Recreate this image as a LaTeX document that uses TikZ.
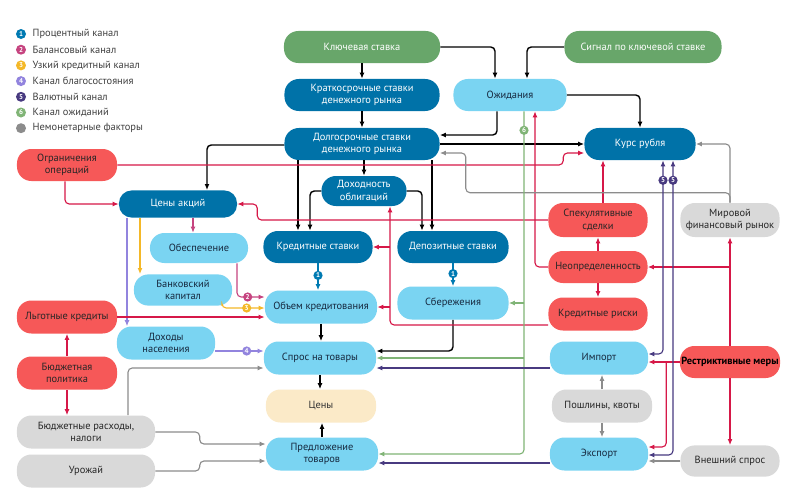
\documentclass[tikz,border=0pt]{standalone}
\usepackage{fontspec}
\setmainfont{PT Sans}
\usetikzlibrary{arrows.meta,calc}
\definecolor{keygreen}{RGB}{104,166,106}
\definecolor{rateblue}{RGB}{0,114,168}
\definecolor{softblue}{RGB}{122,212,242}
\definecolor{alertred}{RGB}{246,88,88}
\definecolor{factorgray}{RGB}{217,217,217}
\definecolor{pricecream}{RGB}{251,234,200}
\definecolor{linered}{RGB}{214,24,72}
\definecolor{linegray}{RGB}{140,140,140}
\definecolor{chblue}{RGB}{0,122,178}
\definecolor{chpink}{RGB}{198,68,128}
\definecolor{chorange}{RGB}{244,184,40}
\definecolor{chlav}{RGB}{146,132,222}
\definecolor{chpurple}{RGB}{72,58,128}
\definecolor{chgreen}{RGB}{128,180,118}
\definecolor{navytext}{RGB}{22,40,62}

\begin{document}
\begin{tikzpicture}[x=0.025cm,y=-0.025cm,>={Latex[length=1.5mm,width=1.2mm]}]
  \tikzstyle{basebox}=[rounded corners=0.36cm,minimum height=0.8cm,align=center,
    inner sep=1pt,font=\fontsize{7.4}{8.8}\selectfont]
  \tikzstyle{keybox}=[basebox,fill=keygreen,text=white]
  \tikzstyle{ratebox}=[basebox,fill=rateblue,text=white]
  \tikzstyle{softbox}=[basebox,fill=softblue,text=navytext]
  \tikzstyle{alertbox}=[basebox,fill=alertred,text=black!85]
  \tikzstyle{factbox}=[basebox,fill=factorgray,text=black!85]
  \tikzstyle{pricebox}=[basebox,fill=pricecream,text=black!80]
  \tikzstyle{arrblack}=[->,black,line width=1pt,rounded corners=3pt]
  \tikzstyle{arrred}=[arrblack,linered,line width=0.8pt]
  \tikzstyle{arrgray}=[arrblack,linegray,line width=0.8pt]
  \tikzstyle{arrgreen}=[arrblack,chgreen,line width=0.8pt]
  \tikzstyle{arrpurple}=[arrblack,chpurple,line width=0.8pt]
  \tikzstyle{arrblue}=[arrblack,chblue,line width=0.8pt]
  \tikzstyle{arrpink}=[arrblack,chpink,line width=0.8pt]
  \tikzstyle{arrorange}=[arrblack,chorange,line width=0.8pt]
  \tikzstyle{arrlav}=[arrblack,chlav,line width=0.8pt]
  \tikzstyle{chmark}=[circle,inner sep=0pt,minimum size=0.23cm,text=white,
    font=\fontsize{5}{5}\selectfont\bfseries]

  \fill[white] (0,0) rectangle (800,494);
  \useasboundingbox (0,0) rectangle (800,494);

  % legend
  \foreach \i/\c/\n/\t in {1/chblue/1/Процентный канал,2/chpink/2/Балансовый канал,
      3/chorange/3/Узкий кредитный канал,4/chlav/4/Канал благосостояния,
      5/chpurple/5/Валютный канал,6/chgreen/6/Канал ожиданий,7/linegray/{}/Немонетарные факторы}{
    \node[chmark,fill=\c,minimum size=0.25cm] (lgdot\i) at (21,{34+(\i-1)*15.7}) {\n};
    \node[anchor=west,inner sep=1pt,text=black!75,font=\fontsize{7.4}{8}\selectfont]
      (lgtext\i) at (31,{34+(\i-1)*15.7}) {\t};
  }

  % nodes
  \node[keybox,minimum width=3.9cm] (keyrate) at (362,47) {Ключевая ставка};
  \node[keybox,minimum width=3.925cm] (signal) at (643,47) {Сигнал по ключевой ставке};
  \node[ratebox,minimum width=3.875cm] (shortrate) at (362,95) {Краткосрочные ставки\\денежного рынка};
  \node[softbox,minimum width=2.825cm] (expect) at (510,95) {Ожидания};
  \node[ratebox,minimum width=3.875cm] (longrate) at (362,144) {Долгосрочные ставки\\денежного рынка};
  \node[ratebox,minimum width=2.775cm] (rouble) at (640,144) {Курс рубля};
  \node[alertbox,minimum width=2.5cm] (limits) at (67,165) {Ограничения\\операций};
  \node[ratebox,minimum width=2.125cm,minimum height=0.75cm] (bondyield) at (364,191) {Доходность\\облигаций};
  \node[ratebox,minimum width=2.95cm,minimum height=0.68cm,rounded corners=0.32cm] (stocks) at (178,204) {Цены акций};
  \node[softbox,minimum width=2.45cm,minimum height=0.75cm] (collateral) at (199,248) {Обеспечение};
  \node[ratebox,minimum width=2.725cm] (loanrate) at (318,247) {Кредитные ставки};
  \node[ratebox,minimum width=2.775cm] (deprate) at (453,247) {Депозитные ставки};
  \node[alertbox,minimum width=2.475cm,minimum height=0.85cm] (specul) at (598,220) {Спекулятивные\\сделки};
  \node[factbox,minimum width=2.475cm,minimum height=0.85cm] (worldmkt) at (730,220) {Мировой\\финансовый рынок};
  \node[alertbox,minimum width=2.475cm] (uncert) at (598,267) {Неопределенность};
  \node[softbox,minimum width=2.45cm,minimum height=0.78cm] (bankcap) at (183,290) {Банковский\\капитал};
  \node[softbox,minimum width=2.8cm,minimum height=0.825cm] (lending) at (321,307) {Объем кредитования};
  \node[softbox,minimum width=2.775cm,minimum height=0.825cm] (savings) at (453,303) {Сбережения};
  \node[alertbox,minimum width=2.475cm,minimum height=0.825cm] (creditrisk) at (598,314) {Кредитные риски};
  \node[alertbox,minimum width=2.5cm,minimum height=0.825cm] (softloans) at (67,317) {Льготные кредиты};
  \node[softbox,minimum width=2.45cm,minimum height=0.825cm] (income) at (166,343) {Доходы\\населения};
  \node[softbox,minimum width=2.8cm,minimum height=0.825cm] (demand) at (320,358) {Спрос на товары};
  \node[softbox,minimum width=2.45cm,minimum height=0.825cm] (imports) at (599,358) {Импорт};
  \node[alertbox,minimum width=2.5cm,font=\fontsize{7.4}{8.8}\selectfont\bfseries,text=black] (restrict) at (730,362) {Рестриктивные меры};
  \node[alertbox,minimum width=2.5cm,minimum height=0.825cm] (budgetpol) at (67,373) {Бюджетная\\политика};
  \node[pricebox,minimum width=2.75cm,minimum height=0.825cm] (prices) at (321,406) {Цены};
  \node[factbox,minimum width=2.5cm,minimum height=0.825cm] (tariffs) at (602,406) {Пошлины, квоты};
  \node[factbox,minimum width=3.45cm,minimum height=0.825cm] (budgetexp) at (86,432) {Бюджетные расходы,\\налоги};
  \node[softbox,minimum width=2.8cm,minimum height=0.825cm] (supply) at (322,454) {Предложение\\товаров};
  \node[softbox,minimum width=2.45cm,minimum height=0.825cm] (exports) at (599,454) {Экспорт};
  \node[factbox,minimum width=3.45cm,minimum height=0.825cm] (harvest) at (86,471) {Урожай};
  \node[factbox,minimum width=2.475cm,minimum height=0.78cm] (extdemand) at (730,461) {Внешний спрос};

  % helper points
  \coordinate (lrin) at ($(loanrate.north)+(-20,0)$);
  \coordinate (dpin) at ($(deprate.north)+(-21,0)$);
  \coordinate (rb) at ($(rouble.west)+(-21,9)$);
  \coordinate (rk) at ($(bondyield.south)+(26,0)$);
  \coordinate (rx) at ($(imports.east)+(18,0)$);
  \coordinate (gb) at ($(worldmkt.north)+(0,-10)$);
  \coordinate (gk) at ($(longrate.east)+(26,9)$);
  \coordinate (gx) at ($(supply.west)+(-66,0)$);
  \coordinate (gn) at ($(expect.south)+(14,0)$);
  \coordinate (pa) at ($(rouble.south)+(23,0)$);
  \coordinate (pb) at ($(rouble.south)+(33,0)$);
  \coordinate (pi) at ($(imports.west)+(0,10)$);
  \coordinate (pe) at ($(exports.west)+(0,9)$);
  \coordinate (lv) at ($(demand.west)+(0,-7)$);

  % black links
  \draw[arrblack] (keyrate.south) -- (shortrate.north);
  \draw[arrblack] (keyrate.east) -| ($(expect.north)+(-15,0)$);
  \draw[arrblack] (signal.west) -| ($(expect.north)+(17,0)$);
  \draw[arrblack] (shortrate.south) -- (longrate.north);
  \draw[arrblack] ($(expect.south)+(-13,0)$) |- ($(longrate.east)+(0,-9)$);
  \draw[arrblack] (expect.east) -| (rouble.north);
  \draw[arrblack] (longrate.east) -- (rouble.west);
  \draw[arrblack] ($(longrate.west)+(0,1)$) -| ($(stocks.north)+(29,0)$);
  \draw[arrblack] (bondyield.north |- longrate.south) -- (bondyield.north);
  \draw[arrblack] (lrin |- longrate.south) -- (lrin);
  \draw[arrblack] (bondyield.west) -| ($(loanrate.north)+(-8,0)$);
  \draw[arrblack] (bondyield.east) -| ($(deprate.north)+(-31,0)$);
  \draw[arrblack] (dpin |- longrate.south) -- (dpin);
  \draw[arrblack] (lending.south) -- (lending.south |- demand.north);
  \draw[arrblack] (savings.south) |- ($(demand.east)+(0,-7)$);
  \draw[arrblack] (demand.south) -- (demand.south |- prices.north);
  \draw[arrblack] (supply.north) -- (supply.north |- prices.south);

  % channels 1-4
  \draw[arrblue] (loanrate.south) -- (loanrate.south |- lending.north);
  \draw[arrblue] (deprate.south) -- (deprate.south |- savings.north);
  \draw[arrpink] ($(stocks.south)+(15,0)$) -- ($(stocks.south |- collateral.north)+(15,0)$);
  \draw[arrpink] ($(collateral.south)+(38,0)$) |- ($(lending.west)+(0,-10)$);
  \draw[arrorange] ($(stocks.south)+(-38,0)$) -- ($(stocks.south |- bankcap.north)+(-38,0)$);
  \draw[arrorange] ($(bankcap.south)+(39,0)$) |- ($(lending.west)+(0,1)$);
  \draw[arrlav] ($(stocks.south)+(-51,0)$) -- ($(stocks.south |- income.north)+(-51,0)$);
  \draw[arrlav] (income.east |- lv) -- (lv);

  % red links
  \draw[arrred] (limits.east) -- (limits.east -| rb) -- (rb) -- ($(rouble.west)+(0,9)$);
  \draw[arrred] ($(limits.south)+(-2,0)$) |- (stocks.west);
  \draw[arrred] (specul.west) -| ($(stocks.east)+(20,0)$) -- (stocks.east);
  \draw[arrred] ($(specul.north)+(5,0)$) -- ($(specul.north |- rouble.south)+(5,0)$);
  \draw[arrred] (uncert.north) -- (specul.south);
  \draw[arrred] (uncert.south) -- (creditrisk.north);
  \draw[arrred] (uncert.west) -| ($(expect.south)+(25,0)$);
  \draw[arrred] ($(creditrisk.west)+(0,11)$) -| (rk);
  \draw[arrred] (rk |- loanrate.east) -- (loanrate.east);
  \draw[arrred] (rk |- lending.east) -- (lending.east);
  \draw[arrred] (restrict.north) -- (worldmkt.south);
  \draw[arrred] (restrict.north |- uncert.east) -- (uncert.east);
  \draw[arrred] (restrict.west) -- (restrict.west -| imports.east);
  \draw[arrred] (rx |- restrict.west) |- ($(exports.east)+(0,-7)$);
  \draw[arrred] (restrict.south) -- (extdemand.north);
  \draw[arrred] (softloans.east) -- (softloans.east -| lending.west);
  \draw[arrred] (budgetpol.north) -- (softloans.south);
  \draw[arrred] (budgetpol.south) -- (budgetpol.south |- budgetexp.north);

  % gray links
  \draw[arrgray] (worldmkt.north) |- (rouble.east);
  \draw[arrgray] (worldmkt.north) -- (gb) -| (gk) -- ($(longrate.east)+(0,9)$);
  \draw[arrgray] (tariffs.north) -- (tariffs.north |- imports.south);
  \draw[arrgray] (tariffs.south) -- (tariffs.south |- exports.north);
  \draw[arrgray] (extdemand.west) -- (extdemand.west -| exports.east);
  \draw[arrgray] ($(budgetexp.north)+(42,0)$) |- ($(demand.west)+(0,10)$);
  \draw[arrgray] (budgetexp.east) -- (budgetexp.east -| gx) |- ($(supply.west)+(0,-10)$);
  \draw[arrgray] (harvest.east) -- (harvest.east -| gx) |- ($(supply.west)+(0,7)$);

  % expectations and currency channels
  \draw[arrgreen] (gn) |- (supply.east);
  \draw[arrgreen] (gn |- savings.east) -- (savings.east);
  \draw[arrgreen] (gn |- demand.east) -- (demand.east);
  \draw[arrpurple,<->] (pa) |- ($(imports.east)+(0,-4)$);
  \draw[arrpurple,<->] (pb) |- ($(exports.east)+(0,1)$);
  \draw[arrpurple] (pi) -- (pi -| demand.east);
  \draw[arrpurple] (pe) -- (pe -| supply.east);

  % channel markers
  \node[chmark,fill=chblue] (mka) at ($(loanrate.south)!0.45!(loanrate.south |- lending.north)$) {1};
  \node[chmark,fill=chblue] (mkb) at ($(deprate.south)!0.45!(deprate.south |- savings.north)$) {1};
  \node[chmark,fill=chpink] (mkc) at ($(lending.west)+(-17,-10)$) {2};
  \node[chmark,fill=chorange] (mkd) at ($(lending.west)+(-18,1)$) {3};
  \node[chmark,fill=chlav] (mke) at ($(demand.west)+(-17,-7)$) {4};
  \node[chmark,fill=chpurple] (mkf) at ($(pa)+(0,20)$) {5};
  \node[chmark,fill=chpurple] (mkg) at ($(pb)+(0,20)$) {5};
  \node[chmark,fill=chgreen] (mkh) at ($(gn)+(0,19)$) {6};
\end{tikzpicture}
\end{document}
